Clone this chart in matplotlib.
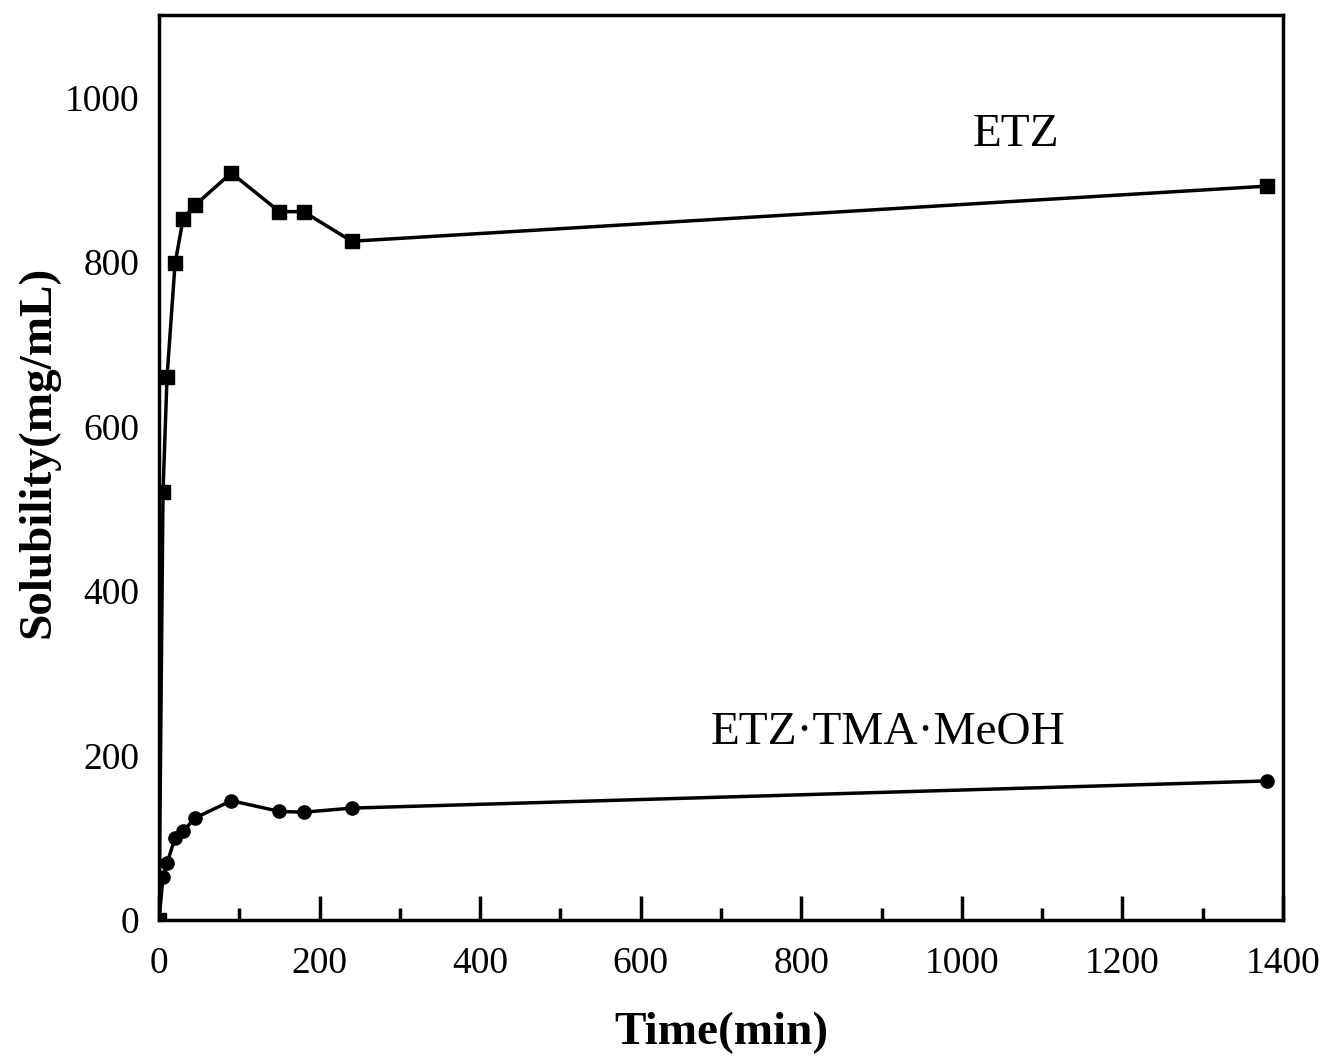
import matplotlib.pyplot as plt
from matplotlib.ticker import MultipleLocator

# Data
time_min = [0, 5, 10, 20, 30, 45, 90, 150, 180, 240, 1380]
etz = [0, 520, 660, 798, 852, 869, 908, 861, 861, 825, 892]
etz_tma = [0, 52, 69, 100, 108, 124, 145, 132, 131, 136, 169]

plt.rcParams["font.family"] = ["Liberation Serif", "DejaVu Serif"]

fig = plt.figure(figsize=(13.24, 10.57), dpi=100)
ax = fig.add_axes([159 / 1324, 1 - 920 / 1057, 1124 / 1324, 905 / 1057])

ax.plot(time_min, etz, color="black", linewidth=2.5, marker="s", markersize=9.5)
ax.plot(time_min, etz_tma, color="black", linewidth=2.5, marker="o", markersize=9.5)

ax.set_xlim(0, 1400)
ax.set_ylim(0, 1100)
ax.xaxis.set_major_locator(MultipleLocator(200))
ax.xaxis.set_minor_locator(MultipleLocator(100))
ax.set_yticks([0, 200, 400, 600, 800, 1000])

ax.tick_params(axis="x", which="major", direction="in", length=17, width=2.5,
               labelsize=27, pad=19)
ax.tick_params(axis="x", which="minor", direction="in", length=9, width=2.5)
ax.tick_params(axis="y", which="major", length=0, labelsize=27, pad=14)
for sp in ax.spines.values():
    sp.set_linewidth(2.5)

ax.set_xlabel("Time(min)", fontsize=34, fontweight="bold", labelpad=22)
ax.set_ylabel("Solubility(mg/mL)", fontsize=34, fontweight="bold")
ax.yaxis.set_label_coords(-0.089, 0.517)

ax.text(1068, 955, "ETZ", fontsize=34, ha="center", va="center")
ax.text(908, 227, "ETZ\u00b7TMA\u00b7MeOH", fontsize=34, ha="center", va="center")

plt.savefig("out.png", dpi=100)
